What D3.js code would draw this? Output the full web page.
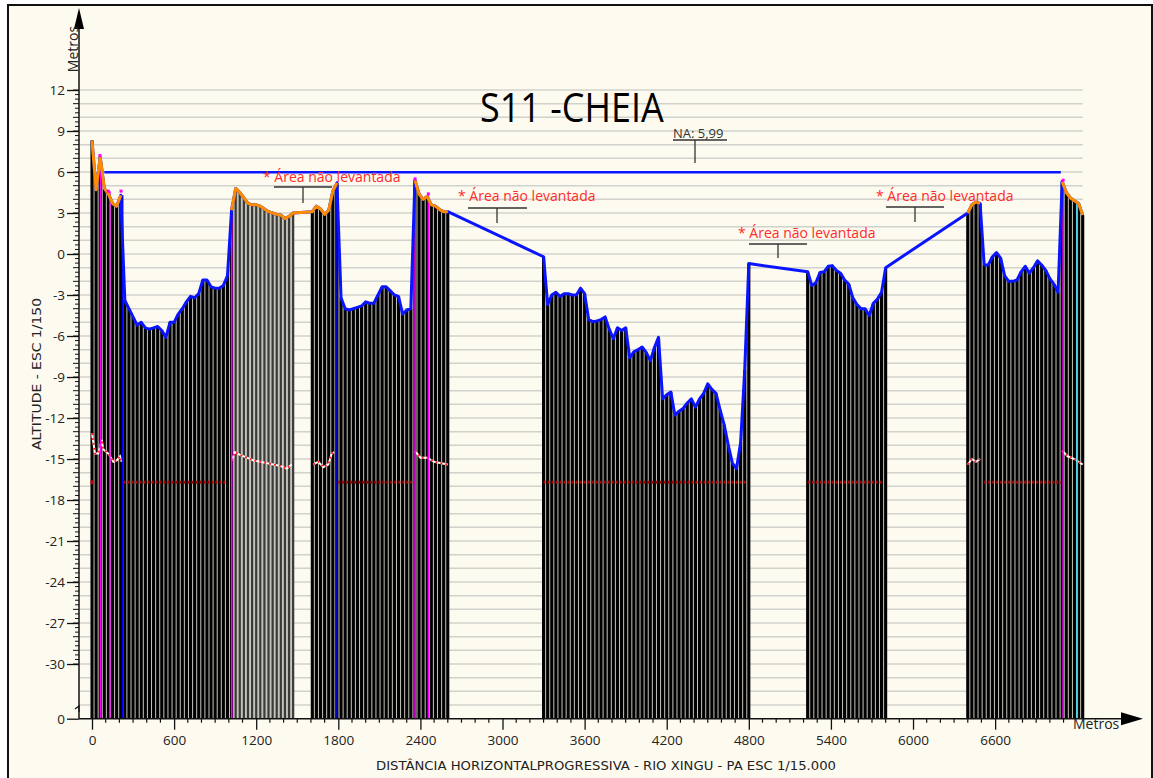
<!DOCTYPE html>
<html>
<head>
<meta charset="utf-8">
<script src="https://cdn.jsdelivr.net/npm/d3@7"></script>
<style>
  html, body { margin: 0; padding: 0; background: #fff; }
  svg { display: block; }
</style>
</head>
<body>
<svg id="chart"></svg>
<script>
window.onload = function(){
    setupChart();
};

const WIDTH = 1153;
const HEIGHT = 778;

// survey stations every 30 m, one array per surveyed stretch
const STEP = 30;
const SEG_STARTS = [0, 1610, 3300, 5230, 6400];
const DEPTH_A = [8.3, 4.7, 7.1, 4.8, 4.4, 3.7, 3.5, 4.3, -3.4, -4.0, -4.6, -5.2, -5.0, -5.4, -5.5, -5.4, -5.3, -5.6, -6.1, -5.0,
    -5.0, -4.4, -4.0, -3.5, -3.1, -3.2, -2.9, -1.9, -1.9, -2.4, -2.5, -2.5, -2.3, -1.6, 3.2, 4.8, 4.5, 4.1, 3.7, 3.6,
    3.6, 3.5, 3.3, 3.1, 3.0, 2.9, 2.85, 2.6, 2.75, 3.0];
const DEPTH_B = [3.1, 3.5, 3.3, 2.9, 3.2, 4.6, 5.2, -3.2, -4.0, -4.1, -4.0, -3.9, -3.8, -3.5, -3.6, -3.6, -3.0, -2.4, -2.4, -2.7,
    -3.0, -3.1, -4.4, -4.1, -4.0, 5.4, 4.4, 4.0, 4.2, 3.6, 3.5, 3.25, 3.1, 3.1];
const DEPTH_C = [-0.2, -3.7, -3.0, -2.8, -3.1, -2.9, -2.9, -3.0, -3.0, -2.5, -2.9, -4.8, -4.95, -4.9, -4.8, -4.6, -5.5, -6.2, -5.4, -5.6,
    -5.4, -7.6, -7.15, -7.0, -6.8, -7.2, -7.8, -6.85, -6.1, -10.6, -10.3, -10.1, -11.8, -11.5, -11.3, -10.9, -10.6, -11.2, -10.6, -10.2,
    -9.5, -9.9, -10.2, -11.4, -12.5, -14.0, -15.3, -15.7, -13.8, -8.5, -0.7];
const DEPTH_D = [-1.3, -2.3, -2.1, -1.35, -1.3, -0.9, -0.85, -1.2, -1.4, -1.9, -2.2, -3.2, -3.7, -4.0, -4.0, -4.5, -3.6, -3.3, -2.8, -1.0];
const DEPTH_E = [3.0, 3.6, 3.8, 3.7, -0.8, -0.8, -0.2, 0.1, -0.3, -1.6, -2.0, -2.0, -1.9, -1.3, -0.9, -1.4, -1.0, -0.5, -0.8, -1.2,
    -1.8, -2.2, -2.8, 5.3, 4.5, 4.1, 3.9, 3.7, 2.85];

// stretches of dry bank drawn in orange
const ORANGE_RANGES = [[0, 210], [1020, 1790], [2360, 2600], [6400, 6490], [7090, 7240]];
// stretch drawn with the finer, greyer bars
const FINE_RANGE = [1050, 1470];

// dashed trace near -15 m
const LOW_1 = [[0, -13.1], [22, -14.6], [46, -14.6], [71, -13.6], [83, -14.3], [119, -14.6], [156, -15.2], [181, -15.1], [205, -14.8], [217, -15.2]];
const LOW_2 = [[1021, -15.1], [1045, -14.5], [1082, -14.7], [1131, -14.9], [1179, -15.1], [1228, -15.2], [1277, -15.3], [1325, -15.4], [1374, -15.5], [1423, -15.7], [1460, -15.4]];
const LOW_3 = [[1617, -15.4], [1654, -15.2], [1690, -15.6], [1727, -15.4], [1752, -14.6], [1769, -14.5]];
const LOW_4 = [[2360, -14.4], [2400, -14.9], [2450, -14.9], [2500, -15.2], [2600, -15.4]];
const LOW_5 = [[6400, -15.4], [6430, -15.0], [6460, -15.2], [6490, -15.0]];
const LOW_6 = [[7090, -14.4], [7130, -14.8], [7180, -15.0], [7240, -15.4]];

// red dotted reference level and where it is drawn
const RED_LEVEL = -16.7;
const RED_RANGES = [[230, 975], [1800, 2350], [3300, 4790], [5230, 5780], [6520, 7080]];

// coloured verticals: [distance, top, colour]
const MARKS = [[62, 7.1, "#ff00ff"], [131, 4.6, "#ff00ff"], [224, 4.3, "#0000ff"], [1021, 3.7, "#ff00ff"], [1783, 5.2, "#0000ff"],
    [2361, 5.4, "#ff00ff"], [2458, 4.3, "#ff00ff"], [7097, 5.3, "#ff00ff"], [7200, 3.8, "#00e5ff"]];
const DOTS = [[58, 7.2], [119, 4.6], [212, 4.6], [2361, 5.5], [2458, 4.4], [7097, 5.4]];

const NA_LEVEL = 5.99;
const NA_RANGE = [90, 7080];

const X_TICKS = [0, 600, 1200, 1800, 2400, 3000, 3600, 4200, 4800, 5400, 6000, 6600];
const Y_TICKS = [12, 9, 6, 3, 0, -3, -6, -9, -12, -15, -18, -21, -24, -27, -30, -34];

// notes "* Área não levantada": [text x, baseline, line x1, line x2, line y, tick x, tick end]
const NOTES = [[263, 182, 274, 332, 187, 303, 203], [458, 201, 468, 527, 208, 497, 223],
    [738, 238, 749, 807, 244, 778, 258], [876, 201, 886, 944, 207, 915, 222]];

function setupChart(){
    let svg = d3.select("#chart")
        .attr("width", WIDTH)
        .attr("height", HEIGHT);

    let xScale = d3.scaleLinear().domain([0, 7240]).range([92, 1082.7]);
    let yScale = d3.scaleLinear().domain([-34, 12]).range([718.7, 90]);

    // background + frame
    svg.append("rect").attr("x", 0).attr("y", 0).attr("width", WIDTH).attr("height", HEIGHT).attr("fill", "#fff");
    svg.append("rect").attr("x", 8).attr("y", 5).attr("width", 1144).attr("height", 774)
        .attr("fill", "#fdfbf0").attr("stroke", "#111").attr("stroke-width", 2);

    // horizontal grid every metre
    svg.append("g").selectAll("line")
        .data(d3.range(-33, 13))
        .enter().append("line")
        .attr("x1", 80).attr("x2", xScale(7240))
        .attr("y1", function(d){ return yScale(d); })
        .attr("y2", function(d){ return yScale(d); })
        .attr("stroke", "#d2d2cc").attr("stroke-width", 1.5);

    // build stations
    let segs = [DEPTH_A, DEPTH_B, DEPTH_C, DEPTH_D, DEPTH_E].map(function(arr, k){
        return arr.map(function(v, i){ return { d: SEG_STARTS[k] + i*STEP, v: v }; });
    });
    let profile = [].concat.apply([], segs);
    let isFine = function(p){ return p.d >= FINE_RANGE[0] && p.d <= FINE_RANGE[1]; };

    // light fill behind the bars
    let area = d3.area()
        .x(function(p){ return xScale(p.d); })
        .y0(yScale(-34))
        .y1(function(p){ return yScale(p.v); });
    svg.append("g").selectAll("path")
        .data(segs)
        .enter().append("path")
        .attr("d", function(s){
            let first = s[0], last = s[s.length-1];
            let pad = [{ d: first.d - 1, v: first.v }].concat(s, [{ d: last.d + 1, v: last.v }]);
            return area(pad);
        })
        .attr("fill", "#c4c3bb");

    // vertical bars
    svg.append("g").selectAll("line")
        .data(profile)
        .enter().append("line")
        .attr("x1", function(p){ return xScale(p.d); })
        .attr("x2", function(p){ return xScale(p.d); })
        .attr("y1", yScale(-34))
        .attr("y2", function(p){ return yScale(p.v); })
        .attr("stroke", function(p){ return isFine(p) ? "#3a3a38" : "#000"; })
        .attr("stroke-width", function(p){ return isFine(p) ? 2.2 : 3.1; });

    // red dotted level
    svg.append("g").selectAll("line")
        .data(RED_RANGES)
        .enter().append("line")
        .attr("x1", function(r){ return xScale(r[0]); })
        .attr("x2", function(r){ return xScale(r[1]); })
        .attr("y1", yScale(RED_LEVEL)).attr("y2", yScale(RED_LEVEL))
        .attr("stroke", "#b00000").attr("stroke-width", 3).attr("stroke-dasharray", "2,2");
    svg.append("rect").attr("x", xScale(0) - 1.5).attr("y", yScale(RED_LEVEL) - 2).attr("width", 3).attr("height", 4).attr("fill", "#c00000");

    // dashed trace near -15
    let line = d3.line()
        .x(function(p){ return xScale(p[0]); })
        .y(function(p){ return yScale(p[1]); });
    let lows = [LOW_1, LOW_2, LOW_3, LOW_4, LOW_5, LOW_6];
    svg.append("g").selectAll("path")
        .data(lows)
        .enter().append("path")
        .attr("d", line)
        .attr("fill", "none").attr("stroke", "#fff").attr("stroke-width", 2);
    svg.append("g").selectAll("path")
        .data(lows)
        .enter().append("path")
        .attr("d", line)
        .attr("fill", "none").attr("stroke", "#ff2020").attr("stroke-width", 2).attr("stroke-dasharray", "2,3");

    // coloured verticals
    svg.append("g").selectAll("line")
        .data(MARKS)
        .enter().append("line")
        .attr("x1", function(m){ return xScale(m[0]); })
        .attr("x2", function(m){ return xScale(m[0]); })
        .attr("y1", yScale(-34))
        .attr("y2", function(m){ return yScale(m[1]); })
        .attr("stroke", function(m){ return m[2]; }).attr("stroke-width", 1.6);

    // bed profile in blue
    let pline = d3.line()
        .x(function(p){ return xScale(p.d); })
        .y(function(p){ return yScale(p.v); });
    svg.append("path")
        .attr("d", pline(profile))
        .attr("fill", "none").attr("stroke", "#0a14ff").attr("stroke-width", 3).attr("stroke-linejoin", "round");

    // water level
    svg.append("line")
        .attr("x1", xScale(NA_RANGE[0])).attr("x2", xScale(NA_RANGE[1]))
        .attr("y1", yScale(NA_LEVEL)).attr("y2", yScale(NA_LEVEL))
        .attr("stroke", "#0a14ff").attr("stroke-width", 2.5);

    // dry bank in orange
    svg.append("g").selectAll("path")
        .data(ORANGE_RANGES)
        .enter().append("path")
        .attr("d", function(r){
            return pline(profile.filter(function(p){ return p.d >= r[0] && p.d <= r[1]; }));
        })
        .attr("fill", "none").attr("stroke", "#ff8c00").attr("stroke-width", 3).attr("stroke-linejoin", "round");

    svg.append("g").selectAll("rect")
        .data(DOTS)
        .enter().append("rect")
        .attr("x", function(p){ return xScale(p[0]) - 1.5; })
        .attr("y", function(p){ return yScale(p[1]) - 1.5; })
        .attr("width", 3).attr("height", 3)
        .attr("fill", "#ff00ff");

    // axes
    let xAxis = svg.append("g")
        .attr("transform", "translate(0," + yScale(-34) + ")")
        .call(d3.axisBottom(xScale).tickValues(X_TICKS).tickSize(11).tickPadding(6).tickFormat(d3.format("d")));
    xAxis.select(".domain").remove();
    xAxis.selectAll("text").attr("font-family", "Open Sans").attr("font-size", "13.5px").attr("fill", "#222");
    xAxis.selectAll("line").attr("stroke", "#111").attr("stroke-width", 1.3);

    svg.append("g").selectAll("line")
        .data(d3.range(100, 7201, 100).filter(function(d){ return d % 600 != 0; }))
        .enter().append("line")
        .attr("x1", function(d){ return xScale(d); })
        .attr("x2", function(d){ return xScale(d); })
        .attr("y1", yScale(-34))
        .attr("y2", yScale(-34) + 4)
        .attr("stroke", "#111").attr("stroke-width", 1.2);

    let yAxis = svg.append("g")
        .attr("transform", "translate(79,0)")
        .call(d3.axisLeft(yScale).tickValues(Y_TICKS).tickSize(12).tickPadding(2)
            .tickFormat(function(d){ return d == -34 ? "0" : d; }));
    yAxis.select(".domain").remove();
    yAxis.selectAll("text").attr("font-family", "Open Sans").attr("font-size", "13.5px").attr("fill", "#222");
    yAxis.selectAll("line").attr("stroke", "#111").attr("stroke-width", 1.3);

    svg.append("g").selectAll("line")
        .data(d3.range(-30, 12.01, 1/3))
        .enter().append("line")
        .attr("x1", function(d, i){ return i % 3 == 0 ? 73 : 75; })
        .attr("x2", 79)
        .attr("y1", function(d){ return yScale(d); })
        .attr("y2", function(d){ return yScale(d); })
        .attr("stroke", "#111").attr("stroke-width", 1);

    // axis lines with arrows
    svg.append("line").attr("x1", 79).attr("x2", 79).attr("y1", yScale(-34)).attr("y2", 20)
        .attr("stroke", "#111").attr("stroke-width", 1.5);
    svg.append("path").attr("d", "M79,8 L74,29 L84,29 Z").attr("fill", "#000");
    svg.append("line").attr("x1", 79).attr("x2", 1130).attr("y1", yScale(-34)).attr("y2", yScale(-34))
        .attr("stroke", "#111").attr("stroke-width", 1.5);
    svg.append("path").attr("d", "M1143," + yScale(-34) + " L1121," + (yScale(-34) - 6.5) + " L1121," + (yScale(-34) + 6.5) + " Z").attr("fill", "#000");
    // axis break mark
    svg.append("path").attr("d", "M75,709 L79,706 L79,712").attr("fill", "none").attr("stroke", "#111").attr("stroke-width", 1.2);

    // texts
    svg.append("text").text("Metros")
        .attr("transform", "translate(78,49) rotate(-90)")
        .attr("text-anchor", "middle")
        .attr("font-family", "Open Sans").attr("font-size", "14px").attr("fill", "#222");
    svg.append("text").text("Metros")
        .attr("x", 1073).attr("y", 729)
        .attr("font-family", "Open Sans").attr("font-size", "14px").attr("fill", "#222");
    svg.append("text").text("ALTITUDE - ESC 1/150")
        .attr("transform", "translate(41,374) rotate(-90)")
        .attr("text-anchor", "middle")
        .attr("textLength", 152).attr("lengthAdjust", "spacingAndGlyphs")
        .attr("font-family", "DejaVu Sans").attr("font-size", "12px").attr("fill", "#222");
    svg.append("text").text("DISTÂNCIA HORIZONTALPROGRESSIVA - RIO XINGU - PA ESC 1/15.000")
        .attr("x", 606).attr("y", 770)
        .attr("text-anchor", "middle")
        .attr("textLength", 460).attr("lengthAdjust", "spacingAndGlyphs")
        .attr("font-family", "DejaVu Sans").attr("font-size", "12px").attr("fill", "#222");

    // title, stretched a little upward to read like the narrow original face
    svg.append("text").text("S11 -CHEIA")
        .attr("transform", "translate(480,122) scale(1,1.12)")
        .attr("font-family", "Open Sans").attr("font-size", "36px").attr("fill", "#000");

    // NA label with leader
    svg.append("text").text("NA: 5,99")
        .attr("x", 673).attr("y", 138)
        .attr("font-family", "Open Sans").attr("font-size", "13px").attr("fill", "#333");
    svg.append("path").attr("d", "M673,140 H727 M695,140 V163")
        .attr("fill", "none").attr("stroke", "#333").attr("stroke-width", 1.3);

    let notes = svg.append("g").selectAll("g")
        .data(NOTES)
        .enter().append("g");
    notes.append("text").text("* Área não levantada")
        .attr("x", function(n){ return n[0]; })
        .attr("y", function(n){ return n[1]; })
        .attr("font-family", "Open Sans").attr("font-size", "14px").attr("fill", "#ff2a2a");
    notes.append("path")
        .attr("d", function(n){ return "M" + n[2] + "," + n[4] + " H" + n[3] + " M" + n[5] + "," + n[4] + " V" + n[6]; })
        .attr("fill", "none").attr("stroke", "#333").attr("stroke-width", 1.3);
}
</script>
</body>
</html>
